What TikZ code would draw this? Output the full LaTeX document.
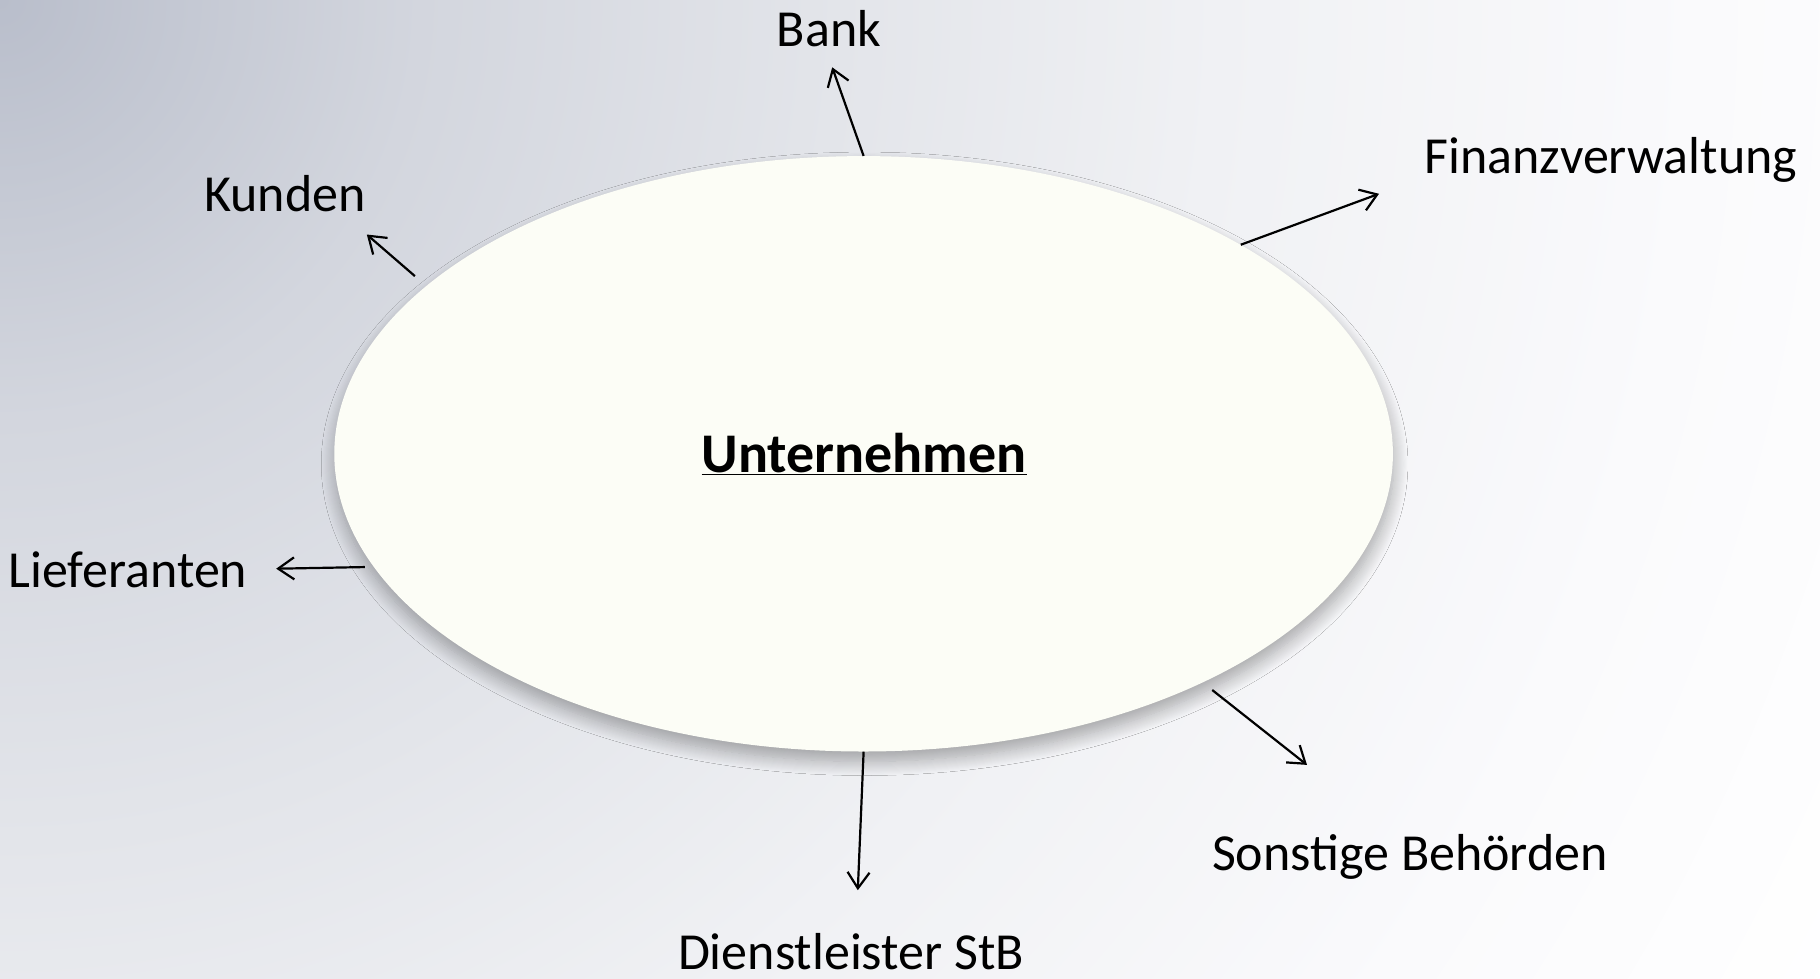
\documentclass[tikz,border=0pt]{standalone}
\usepackage{fontspec}
\setmainfont{Carlito}
\usetikzlibrary{arrows.meta,shapes.geometric,shadows.blur}
\definecolor{bgA}{HTML}{B9BECB}
\definecolor{bgB}{HTML}{D3D6DE}
\definecolor{bgC}{HTML}{E3E5EA}
\definecolor{bgD}{HTML}{F0F1F4}
\definecolor{bgE}{HTML}{FAFAFC}
\definecolor{ellfill}{HTML}{FCFDF6}
\pgfdeclareradialshading{bgshade}{\pgfpoint{0bp}{0bp}}{color(0bp)=(bgA); color(5bp)=(bgB); color(10bp)=(bgC); color(14.5bp)=(bgD); color(20.2bp)=(bgE); color(25bp)=(white); color(50bp)=(white)}
\begin{document}
\begin{tikzpicture}[x=1pt,y=-1pt,
  lbl/.style={font=\fontsize{52}{60}\selectfont, anchor=base, inner sep=0pt},
  conn/.style={line width=2.2pt,-{Straight Barb[length=16pt,width=22pt]}}]
\useasboundingbox (0,0) rectangle (1820,978);
\fill[white] (0,0) rectangle (1820,978);
\begin{scope}
  \clip (0,0) rectangle (1820,978);
  \shade[shading=bgshade] (0,0) circle[radius=2100];
\end{scope}
\node[ellipse, fill=ellfill, minimum width=1058.6pt, minimum height=595.4pt, inner sep=0pt,
  blur shadow={shadow xshift=1pt, shadow yshift=-10pt, shadow blur radius=14pt, shadow blur steps=14, shadow opacity=32}] (U) at (863.6,453.8) {};
\node[font=\fontsize{56}{64}\selectfont\bfseries, anchor=base, inner sep=0pt] (t) at (864,472) {\underline{Unternehmen}};
\node[lbl] (bank) at (829,46) {Bank};
\node[lbl] (kunden) at (285,211) {Kunden};
\node[lbl] (finanz) at (1611,173) {Finanzverwaltung};
\node[lbl] (liefer) at (128,587) {Lieferanten};
\node[lbl] (sonst) at (1410,870) {Sonstige Behörden};
\node[lbl] (dienst) at (851,969) {Dienstleister StB};
\coordinate (eBank) at (832.2,67.3);
\coordinate (eKunden) at (366.8,234.5);
\coordinate (eFinanz) at (1379,193.8);
\coordinate (eLiefer) at (276.2,568.7);
\coordinate (eSonst) at (1307,764.9);
\coordinate (eDienst) at (857.8,890.2);
\draw[conn] (U.north) -- (eBank);
\draw[conn,shorten <=15pt] (U.159.8) -- (eKunden);
\draw[conn] (U.29.5) -- (eFinanz);
\draw[conn,shorten <=9pt] (U.193.24) -- (eLiefer);
\draw[conn,shorten <=12pt] (U.-34.57) -- (eSonst);
\draw[conn] (U.south) -- (eDienst);
\end{tikzpicture}
\end{document}
